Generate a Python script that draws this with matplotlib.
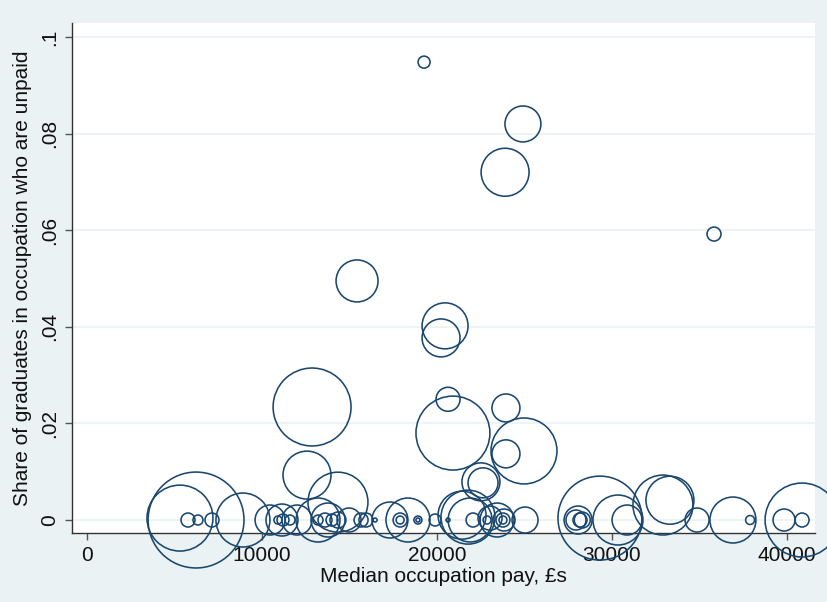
import matplotlib
matplotlib.use("Agg")
import matplotlib.pyplot as plt

# Median occupation pay (GBP)
pay = [19260, 24910, 23890, 35830, 15430, 20460, 20230, 20630, 20910, 12860,
       23940, 24970, 23940, 12570, 22510, 22630, 14340, 32910, 33310,
       5310, 6230, 5770, 6340, 7140, 8910, 10460, 11140, 10910, 11200,
       11600, 12000, 13200, 13770, 13200, 13600, 14000, 14340, 14970, 15660,
       15940, 16460, 17310, 18340, 17890, 17890, 18910, 18910, 19890, 20630,
       21430, 21770, 21890, 22060, 22860, 23430, 23770, 23770, 25030, 29310,
       28060, 27940, 28170, 28300, 30340, 30860, 34860, 36910, 37890, 39830,
       40860, 40860, 23030, 23830]
# Share of graduates in occupation who are unpaid
share = [0.0948, 0.0820, 0.0720, 0.0592, 0.0495, 0.0402, 0.0377, 0.0250, 0.0180, 0.0234,
         0.0232, 0.0143, 0.0137, 0.0093, 0.0079, 0.0077, 0.0037, 0.0031, 0.0041,
         0.0004, 0.0, 0.0, 0.0, 0.0, 0.0, 0.0, 0.0, 0.0, 0.0,
         0.0, 0.0, 0.0, 0.0, 0.0, 0.0, 0.0, 0.0, 0.0, 0.0,
         0.0, 0.0, 0.0, 0.0, 0.0, 0.0, 0.0, 0.0, 0.0, 0.0,
         0.0010, 0.0006, 0.0, 0.0, 0.0, 0.0, 0.0, 0.0, 0.0, 0.0004,
         0.0, 0.0, 0.0, 0.0, 0.0, 0.0, 0.0, 0.0, 0.0, 0.0,
         0.0, 0.0, 0.0004, 0.0]
# Bubble weight (number of graduates, arbitrary units)
weight = [36, 324, 576, 49, 441, 529, 361, 144, 1369, 1521,
          196, 1089, 196, 576, 361, 225, 900, 900, 576,
          1089, 2304, 49, 25, 49, 729, 225, 256, 16, 36,
          25, 225, 484, 289, 25, 49, 36, 64, 144, 49,
          49, 4, 324, 484, 49, 16, 16, 4, 36, 4,
          576, 729, 484, 49, 16, 289, 49, 16, 169, 1764,
          196, 100, 49, 64, 625, 225, 144, 529, 20, 121,
          49, 1369, 144, 121]

xticks = [0, 10000, 20000, 30000, 40000]
yticks = [0, 0.02, 0.04, 0.06, 0.08, 0.1]
ytick_labels = ["0", ".02", ".04", ".06", ".08", ".1"]

plt.rcParams['font.family'] = ['Liberation Sans', 'DejaVu Sans']
bg = '#EAF2F3'
navy = '#1A476F'

fig = plt.figure(figsize=(8.28, 6.02), dpi=100, facecolor=bg)
ax = fig.add_axes([0.0870, 0.1146, 0.8973, 0.8472])
ax.set_facecolor('white')

sizes = [w * 2.07 for w in weight]
ax.scatter(pay, share, s=sizes, facecolors='none', edgecolors=navy,
           linewidths=1.15, clip_on=False, zorder=3)

ax.set_xlim(-857, 41600)
ax.set_ylim(-0.00269, 0.1029)

ax.set_xticks(xticks)
ax.set_xticklabels([str(t) for t in xticks])
ax.set_yticks(yticks)
ax.set_yticklabels(ytick_labels, rotation=90, va='center')

for t in yticks:
    ax.axhline(t, color=bg, lw=1.2, zorder=1)

for s in ['top', 'right']:
    ax.spines[s].set_visible(False)
for s in ['left', 'bottom']:
    ax.spines[s].set_color('#333333')
    ax.spines[s].set_linewidth(1.0)

ax.tick_params(axis='both', direction='out', length=5, width=1.0,
               color='#555555', labelsize=15, labelcolor='#111111', pad=4)

ax.set_xlabel('Median occupation pay, £s', fontsize=15, color='#111111', labelpad=2)
ax.set_ylabel('Share of graduates in occupation who are unpaid', fontsize=15,
              color='#111111', labelpad=6)

fig.savefig('out.png', dpi=100, facecolor=bg)
